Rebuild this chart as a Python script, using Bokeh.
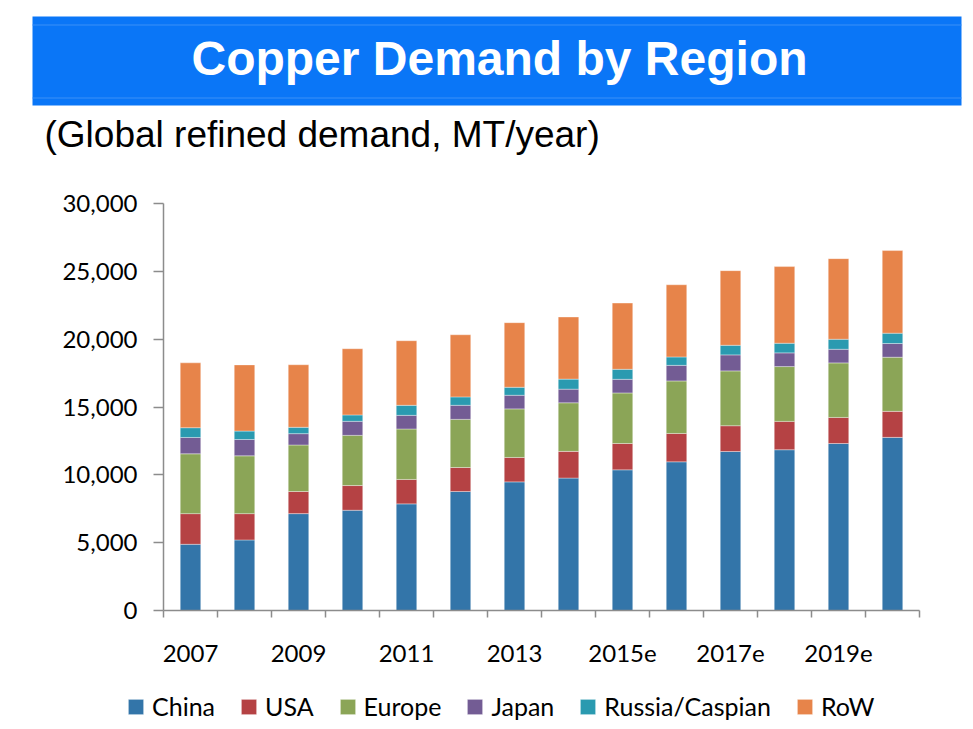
from bokeh.plotting import figure
from bokeh.models import (Range1d, FixedTicker, NumeralTickFormatter, Legend, LegendItem,
                          ColumnDataSource, BoxAnnotation, Label)
from bokeh.embed import file_html
from bokeh.resources import INLINE

# ---------------- data ----------------
years = ["2007", "2008", "2009", "2010", "2011", "2012", "2013",
         "2014", "2015e", "2016e", "2017e", "2018e", "2019e", "2020e"]
regions = ["China", "USA", "Europe", "Japan", "Russia/Caspian", "RoW"]
china  = [4880, 5200, 7140, 7390, 7860, 8770, 9480, 9760, 10370, 10960, 11720, 11850, 12310, 12760]
usa    = [2260, 1940, 1630, 1820, 1800, 1770, 1800, 1970, 1940, 2090, 1900, 2090, 1920, 1920]
europe = [4410, 4260, 3430, 3700, 3720, 3550, 3580, 3580, 3725, 3870, 4040, 4040, 4020, 3990]
japan  = [1205, 1205, 835, 1035, 1005, 1035, 1005, 1005, 1005, 1150, 1180, 1010, 1005, 1010]
russia = [720, 620, 470, 470, 740, 620, 590, 740, 740, 620, 710, 710, 740, 760]
row    = [4780, 4880, 4610, 4880, 4760, 4580, 4760, 4580, 4880, 5320, 5500, 5650, 5940, 6090]
y_ticks = [0, 5000, 10000, 15000, 20000, 25000, 30000]
shown_year_labels = ["2007", "2009", "2011", "2013", "2015e", "2017e", "2019e"]

colors = ["#3375A9", "#B54244", "#8BA557", "#735C94", "#2A9AB0", "#E7844A"]
title_text = "Copper Demand by Region"
subtitle_text = "(Global refined demand, MT/year)"

TICK_FONT = "Lato"
TEXT_COLOR = "#000000"
AXIS_COLOR = "#8C8C8C"
BANNER = "#0A76F7"
BANNER_LINE = "#3A90F8"

# ---------------- layout geometry (page pixels) ----------------
W, H = 973, 729
AX_LEFT, AX_RIGHT, AX_TOP, AX_BOTTOM = 163, 919, 203, 610   # axes box on the page
n = len(years)
Y_MAX = 30000
px_per_cat = (AX_RIGHT - AX_LEFT) / n
px_per_val = (AX_BOTTOM - AX_TOP) / Y_MAX
x_start = 0.5 - AX_LEFT / px_per_cat
x_end = n + 0.5 + (W - AX_RIGHT) / px_per_cat
y_start = -(H - AX_BOTTOM) / px_per_val
y_end = Y_MAX + AX_TOP / px_per_val


def px_x(px):
    return x_start + px / px_per_cat


def px_y(py):
    return Y_MAX + (AX_TOP - py) / px_per_val


xs = list(range(1, n + 1))
src = ColumnDataSource(dict(x=xs, China=china, USA=usa, Europe=europe, Japan=japan,
                            Russia=russia, RoW=row))
stack_keys = ["China", "USA", "Europe", "Japan", "Russia", "RoW"]

p = figure(width=W, height=H, output_backend="svg", toolbar_location=None,
           x_range=Range1d(x_start, x_end), y_range=Range1d(y_start, y_end),
           min_border=0, title=None)
p.outline_line_color = None
p.grid.visible = False
p.background_fill_color = "white"
p.border_fill_color = "white"

# ---------------- header ----------------
p.add_layout(BoxAnnotation(left=px_x(32), right=px_x(961), top=px_y(16), bottom=px_y(105),
                           fill_color=BANNER, fill_alpha=1.0, line_color=None,
                           level="underlay"))
for yy in (24, 97):
    p.add_layout(BoxAnnotation(left=px_x(32), right=px_x(961), top=px_y(yy), bottom=px_y(yy + 1),
                               fill_color=BANNER_LINE, fill_alpha=1.0, line_color=None,
                               level="underlay"))
p.add_layout(Label(x=px_x(499), y=px_y(58), text=title_text, text_color="white",
                   text_font="Liberation Sans", text_font_style="bold", text_font_size="48px",
                   text_align="center", text_baseline="alphabetic"))
p.add_layout(Label(x=px_x(44), y=px_y(134), text=subtitle_text, text_color=TEXT_COLOR,
                   text_font="Liberation Sans", text_font_size="37px",
                   text_align="left", text_baseline="alphabetic"))

# ---------------- stacked bars ----------------
rs = p.vbar_stack(stack_keys, x="x", width=0.38, source=src, fill_color=colors,
                  line_color="white", line_width=0.6, line_alpha=0.6)

# y axis (pinned at the left edge of the category area)
p.yaxis.fixed_location = 0.5
p.yaxis.bounds = (0, Y_MAX)
p.yaxis.ticker = FixedTicker(ticks=y_ticks, minor_ticks=[])
p.yaxis.formatter = NumeralTickFormatter(format="0,0")
p.yaxis.axis_line_color = AXIS_COLOR
p.yaxis.axis_line_width = 1.5
p.yaxis.major_tick_line_color = AXIS_COLOR
p.yaxis.major_tick_line_width = 1.5
p.yaxis.major_tick_out = 10
p.yaxis.major_tick_in = 0
p.yaxis.minor_tick_line_color = None
p.yaxis.major_label_standoff = 16
p.yaxis.major_label_text_font = TICK_FONT
p.yaxis.major_label_text_font_size = "24px"
p.yaxis.major_label_text_color = TEXT_COLOR

# x axis (pinned at zero): labels every other year, ticks at category boundaries
label_pos = [xs[years.index(y)] for y in shown_year_labels]
p.xaxis.fixed_location = 0
p.xaxis.bounds = (0.5, n + 0.5)
p.xaxis.ticker = FixedTicker(ticks=label_pos,
                             minor_ticks=[i + 0.5 for i in range(0, n + 1)])
p.xaxis.major_label_overrides = {pos: lab for pos, lab in zip(label_pos, shown_year_labels)}
p.xaxis.axis_line_color = AXIS_COLOR
p.xaxis.axis_line_width = 1.5
p.xaxis.major_tick_line_color = None
p.xaxis.major_tick_out = 0
p.xaxis.major_tick_in = 0
p.xaxis.minor_tick_line_color = AXIS_COLOR
p.xaxis.minor_tick_line_width = 1.5
p.xaxis.minor_tick_out = 7
p.xaxis.minor_tick_in = 0
p.xaxis.major_label_standoff = 27
p.xaxis.major_label_text_font = TICK_FONT
p.xaxis.major_label_text_font_size = "24px"
p.xaxis.major_label_text_color = TEXT_COLOR

legend = Legend(items=[LegendItem(label=r, renderers=[g]) for r, g in zip(regions, rs)],
                orientation="horizontal", location=(126, 8),
                glyph_width=19, glyph_height=19, label_standoff=7, spacing=24,
                padding=0, margin=0, border_line_color=None, background_fill_alpha=0,
                label_text_font=TICK_FONT, label_text_font_size="25px",
                label_text_color=TEXT_COLOR)
p.add_layout(legend)

open("out.html", "w").write(file_html(p, INLINE))
